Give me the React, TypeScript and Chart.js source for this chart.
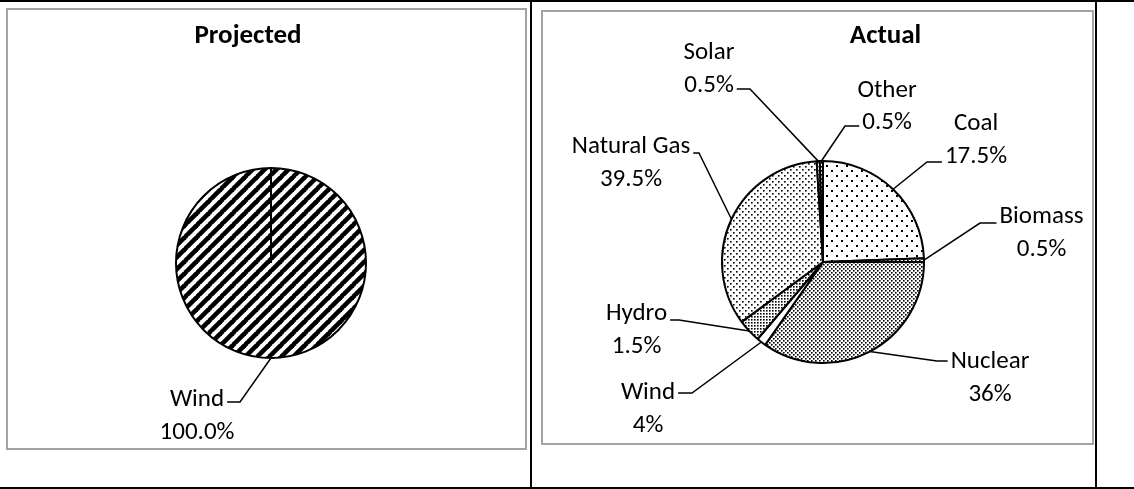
import React, { useEffect, useRef } from "react";
import { Chart, registerables } from "chart.js";

Chart.register(...registerables);

// ---------- data ----------
const projectedTitle = "Projected";
const projectedCategories = ["Wind"];
const projectedValues = [100];
const projectedLabels = ["100.0%"];

const actualTitle = "Actual";
const actualCategories = ["Coal", "Biomass", "Nuclear", "Wind", "Hydro", "Natural Gas", "Solar", "Other"];
// slice sizes as drawn in the picture
const actualValues = [24.4, 0.6, 34.7, 1.5, 3.7, 34.1, 0.5, 0.5];
// percentages printed on the data labels
const actualLabels = ["17.5%", "0.5%", "36%", "4%", "1.5%", "39.5%", "0.5%", "0.5%"];

// ---------- layout (label placement relative to pie centre) ----------
type LabelPos = { cx: number; by: number; line: number; ly: number; kx: number };
const projectedLayout: LabelPos[] = [{ cx: -74, by: 143, line: 0, ly: 139, kx: -31 }];
const actualLayout: LabelPos[] = [
  { cx: 153, by: -132, line: 1, ly: -100, kx: 104 },
  { cx: 218.5, by: -39, line: 0, ly: -39, kx: 157 },
  { cx: 167, by: 106, line: 0, ly: 99, kx: 114 },
  { cx: -175, by: 137, line: 0, ly: 131, kx: -131 },
  { cx: -186.5, by: 58, line: 0, ly: 58, kx: -144 },
  { cx: -192, by: -109, line: 0, ly: -109, kx: -124 },
  { cx: -114, by: -202.7, line: 1, ly: -173, kx: -73 },
  { cx: 64, by: -165.3, line: 1, ly: -136, kx: 22 },
];

const FONT = "Carlito, Lato, 'Liberation Sans', sans-serif";

function makePattern(kind: string): CanvasPattern | string {
  if (kind === "white") return "#ffffff";
  const c = document.createElement("canvas");
  let s = 8;
  if (kind === "hatch") s = 12;
  if (kind === "sparse") s = 10;
  if (kind === "medium") s = 6;
  if (kind === "dense") s = 4;
  if (kind === "hydro") s = 3;
  c.width = s;
  c.height = s;
  const g = c.getContext("2d")!;
  g.fillStyle = "#fff";
  g.fillRect(0, 0, s, s);
  g.fillStyle = "#000";
  g.strokeStyle = "#000";
  if (kind === "hatch") {
    g.lineWidth = 4.6;
    for (let k = -1; k <= 1; k++) {
      g.beginPath();
      g.moveTo(k * s - 1, s + 1);
      g.lineTo(k * s + s + 1, -1);
      g.stroke();
    }
  } else if (kind === "sparse") {
    g.fillRect(0, 0, 2, 2);
    g.fillRect(5, 5, 2, 2);
  } else if (kind === "medium") {
    g.fillRect(0, 0, 1.6, 1.6);
    g.fillRect(3, 3, 1.6, 1.6);
  } else if (kind === "dense") {
    g.fillRect(0, 0, 1.6, 1.6);
    g.fillRect(2, 2, 1.6, 1.6);
  } else if (kind === "hydro") {
    g.fillRect(0, 0, 1.6, 1.6);
  }
  const p = g.createPattern(c, "repeat");
  return p || "#fff";
}

const pieLabelPlugin = {
  id: "pieLabels",
  afterDatasetsDraw(chart: any, _args: any, opts: any) {
    const meta = chart.getDatasetMeta(0);
    const ctx: CanvasRenderingContext2D = chart.ctx;
    const first = meta.data[0];
    const pcx = first.x;
    const pcy = first.y;
    ctx.save();
    ctx.fillStyle = "#000";
    ctx.strokeStyle = "#000";
    ctx.textAlign = "center";
    ctx.textBaseline = "alphabetic";
    ctx.font = `bold ${opts.titleSize}px ${FONT}`;
    ctx.fillText(opts.title, pcx + opts.titleDX, pcy + opts.titleDY);

    if (meta.data.length === 1) {
      const a = meta.data[0];
      ctx.lineWidth = 2;
      ctx.beginPath();
      ctx.moveTo(pcx, pcy);
      ctx.lineTo(pcx + Math.cos(a.startAngle) * a.outerRadius, pcy + Math.sin(a.startAngle) * a.outerRadius);
      ctx.stroke();
    }

    ctx.font = `${opts.fontSize}px ${FONT}`;
    ctx.lineWidth = 1.5;
    meta.data.forEach((arc: any, i: number) => {
      const L: LabelPos = opts.layout[i];
      const mid = (arc.startAngle + arc.endAngle) / 2;
      const ax = pcx + Math.cos(mid) * arc.outerRadius;
      const ay = pcy + Math.sin(mid) * arc.outerRadius;
      const lines = [chart.data.labels[i], opts.texts[i]];
      const lx = pcx + L.cx;
      lines.forEach((t: string, j: number) => ctx.fillText(t, lx, pcy + L.by + j * opts.lineGap));
      const w = ctx.measureText(lines[L.line]).width;
      const kx = pcx + L.kx;
      const ly = pcy + L.ly;
      const ex = kx < lx ? lx - w / 2 - 3 : lx + w / 2 + 3;
      ctx.beginPath();
      ctx.moveTo(ax, ay);
      ctx.lineTo(kx, ly);
      ctx.lineTo(ex, ly);
      ctx.stroke();
    });
    ctx.restore();
  },
};

type PieProps = {
  left: number;
  top: number;
  width: number;
  height: number;
  padding: { left: number; right: number; top: number; bottom: number };
  categories: string[];
  values: number[];
  texts: string[];
  fills: string[];
  layout: LabelPos[];
  title: string;
  titleDX: number;
  titleDY: number;
};

function PieBox(p: PieProps) {
  const ref = useRef<HTMLCanvasElement | null>(null);
  useEffect(() => {
    if (!ref.current) return;
    const chart = new Chart(ref.current, {
      type: "pie",
      data: {
        labels: p.categories,
        datasets: [
          {
            data: p.values,
            backgroundColor: p.fills.map((f) => makePattern(f)) as any,
            borderColor: "#000",
            borderWidth: 2,
          },
        ],
      },
      options: {
        animation: false,
        responsive: false,
        events: [],
        layout: { padding: p.padding },
        plugins: {
          legend: { display: false },
          tooltip: { enabled: false },
          title: { display: false },
          pieLabels: {
            layout: p.layout,
            texts: p.texts,
            title: p.title,
            titleDX: p.titleDX,
            titleDY: p.titleDY,
            titleSize: 27,
            fontSize: 25,
            lineGap: 32.5,
          },
        } as any,
      },
      plugins: [pieLabelPlugin],
    });
    return () => chart.destroy();
  }, []);
  return (
    <>
      <div
        style={{
          position: "absolute",
          left: p.left,
          top: p.top,
          width: p.width,
          height: p.height,
          boxSizing: "border-box",
          border: "2px solid #a3a3a3",
          background: "#fff",
        }}
      />
      <canvas
        ref={ref}
        width={p.width}
        height={p.height}
        style={{ position: "absolute", left: p.left, top: p.top, width: p.width, height: p.height }}
      />
    </>
  );
}

export default function App() {
  const line = (l: number, t: number, w: number, h: number) => (
    <div style={{ position: "absolute", left: l, top: t, width: w, height: h, background: "#000" }} />
  );
  return (
    <div
      style={{
        position: "fixed",
        left: 0,
        top: 0,
        width: 1134,
        height: 489,
        background: "#fff",
        overflow: "hidden",
        fontFamily: FONT,
      }}
    >
      {line(0, 0, 1134, 2)}
      {line(0, 487, 1134, 2)}
      {line(530, 0, 2, 489)}
      {line(1095, 0, 2, 489)}
      <PieBox
        left={6}
        top={8}
        width={521}
        height={442}
        padding={{ left: 169, right: 160, top: 159, bottom: 91 }}
        categories={projectedCategories}
        values={projectedValues}
        texts={projectedLabels}
        fills={["hatch"]}
        layout={projectedLayout}
        title={projectedTitle}
        titleDX={-23}
        titleDY={-220}
      />
      <PieBox
        left={541}
        top={10}
        width={553}
        height={435}
        padding={{ left: 180, right: 169, top: 150, bottom: 81 }}
        categories={actualCategories}
        values={actualValues}
        texts={actualLabels}
        fills={["sparse", "dense", "dense", "white", "hydro", "medium", "dense", "dense"]}
        layout={actualLayout}
        title={actualTitle}
        titleDX={62.5}
        titleDY={-219}
      />
    </div>
  );
}
